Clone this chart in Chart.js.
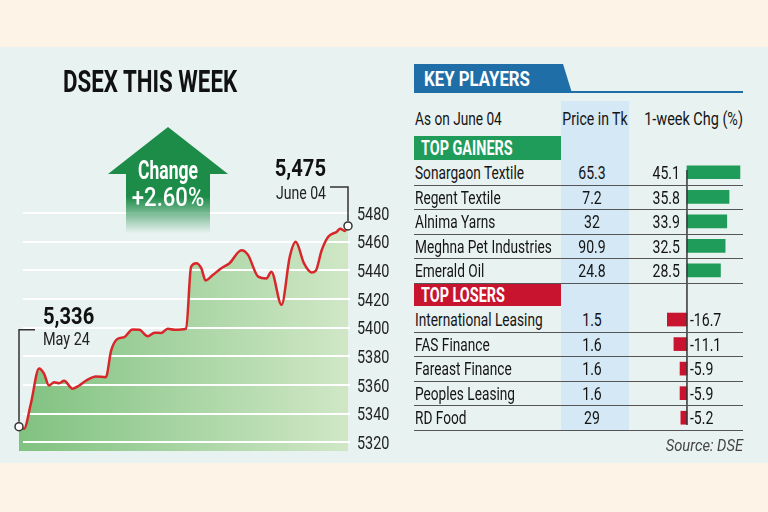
<!DOCTYPE html>
<html>
<head>
<meta charset="utf-8">
<script src="https://cdn.jsdelivr.net/npm/chart.js@4.4.1/dist/chart.umd.min.js"></script>
<style>
html, body { margin: 0; padding: 0; }
body { width: 768px; height: 512px; background: #fdf3e6; position: relative; overflow: hidden; font-family: Roboto, "Liberation Sans", sans-serif; }
#panel { position: absolute; left: 0; top: 47px; width: 768px; height: 416px; background: #e8f2f0; }
canvas { position: absolute; }
.lbl { position: absolute; white-space: nowrap; line-height: 1; color: #141414; }
.box { position: absolute; }
#arrow { position: absolute; left: 108px; top: 127px; width: 120px; height: 108px;
  background: linear-gradient(to bottom, #1d8c48 0, #1d8c48 70px, rgba(40,150,80,0) 106px);
  clip-path: polygon(60px 0, 120px 47px, 102px 47px, 102px 108px, 18px 108px, 18px 47px, 0 47px); }
#banner { position: absolute; left: 414px; top: 64px; width: 158px; height: 29px; background: #1f6ea7;
  clip-path: polygon(0 0, 149px 0, 158px 100%, 0 100%); }
</style>
</head>
<body>
<div id="panel"></div>
<canvas id="dsex" width="390" height="512" style="left:0;top:0"></canvas>
<canvas id="chg" width="135" height="270" style="left:610px;top:160px"></canvas>
<div id="arrow"></div>
<div id="banner"></div>

<script>
/*///////////////////////////////////////////////////////////
資料
///////////////////////////////////////////////////////////*/
// DSEX over the week, time as share of the week (0-100)
var times = [0, 1.5, 3.6, 6.1, 7.6, 9.1, 10.7, 12.2, 13.7, 16.3, 18.3, 20.3, 23.4, 26.4, 28, 30, 32, 34.5, 36.6, 39.1,
    41.2, 43.2, 45.2, 47.3, 50.8, 52.3, 53.9, 55.4, 56.7, 58.9, 61.5, 64, 67.6, 69.6, 72.7, 75.2, 76.7, 79.8, 82.3, 84.1,
    86.6, 88.9, 90.2, 92, 94, 96.6, 97.6, 99, 100];
var dsex = [5331, 5329.5, 5347, 5371.6, 5368, 5359.7, 5362, 5361.3, 5363, 5357.5, 5359.7, 5363, 5366, 5365.5, 5384, 5392.3, 5393.4, 5398.8, 5398.6, 5394,
    5396.5, 5396.3, 5399.3, 5398.6, 5399.3, 5442.5, 5445, 5441.5, 5433, 5436.7, 5441.5, 5445, 5454, 5450.8, 5435.6, 5434.4, 5439, 5416, 5449.5, 5460,
    5445, 5438.5, 5439.7, 5454, 5463.4, 5467, 5469, 5467.5, 5471];
var yTicks = [5320, 5340, 5360, 5380, 5400, 5420, 5440, 5460, 5480];
var openValue = '5,336', openDate = 'May 24';
var closeValue = '5,475', closeDate = 'June 04';
var changePct = 2.60;

var gainers = ['Sonargaon Textile', 'Regent Textile', 'Alnima Yarns', 'Meghna Pet Industries', 'Emerald Oil'];
var gainerPrice = ['65.3', '7.2', '32', '90.9', '24.8'];
var gainerChg = [45.1, 35.8, 33.9, 32.5, 28.5];
var losers = ['International Leasing', 'FAS Finance', 'Fareast Finance', 'Peoples Leasing', 'RD Food'];
var loserPrice = ['1.5', '1.6', '1.6', '1.6', '29'];
var loserChg = [-16.7, -11.1, -5.9, -5.9, -5.2];

// one empty row for the TOP LOSERS header
var rowNames = gainers.concat([''], losers);
var rowPrice = gainerPrice.concat([''], loserPrice);
var rowChg = gainerChg.concat([null], loserChg);

/*///////////////////////////////////////////////////////////
工具
///////////////////////////////////////////////////////////*/
function label(str, x, cy, size, o) {
    o = o || {};
    var sx = o.sx || 0.72;
    var d = document.createElement('div');
    d.className = 'lbl';
    d.textContent = str;
    d.style.fontSize = size + 'px';
    d.style.top = (cy - 0.486 * size) + 'px';
    if (o.bold) d.style.fontWeight = o.bold;
    if (o.italic) d.style.fontStyle = 'italic';
    if (o.color) d.style.color = o.color;
    if (o.align === 'right') {
        d.style.right = (768 - x) + 'px';
        d.style.transformOrigin = '100% 50%';
        d.style.transform = 'scaleX(' + sx + ')';
    } else if (o.align === 'center') {
        d.style.left = x + 'px';
        d.style.transformOrigin = '50% 50%';
        d.style.transform = 'translateX(-50%) scaleX(' + sx + ')';
    } else {
        d.style.left = x + 'px';
        d.style.transformOrigin = '0 50%';
        d.style.transform = 'scaleX(' + sx + ')';
    }
    document.body.appendChild(d);
    return d;
}

function box(x, y, w, h, color) {
    var d = document.createElement('div');
    d.className = 'box';
    d.style.left = x + 'px'; d.style.top = y + 'px';
    d.style.width = w + 'px'; d.style.height = h + 'px';
    d.style.background = color;
    document.body.appendChild(d);
    return d;
}

function canvasText(ctx, str, x, cy, size, weight, align, sx, color) {
    ctx.save();
    ctx.translate(x, cy + 0.355 * size);
    ctx.scale(sx, 1);
    ctx.font = weight + ' ' + size + 'px Roboto, sans-serif';
    ctx.fillStyle = color;
    ctx.textAlign = align;
    ctx.textBaseline = 'alphabetic';
    ctx.fillText(str, 0, 0);
    ctx.restore();
}

/*///////////////////////////////////////////////////////////
折線圖
///////////////////////////////////////////////////////////*/
var pts = times.map(function (t, i) { return {x: t, y: dsex[i]}; });

function fillGrad(c) {
    var a = c.chart.chartArea;
    if (!a) return '#a8d4a0';
    var g = c.chart.ctx.createLinearGradient(a.left, 0, a.right, 0);
    g.addColorStop(0, '#80c280');
    g.addColorStop(1, '#d0e7c6');
    return g;
}

var lineDecor = {
    id: 'lineDecor',
    afterDatasetDraw: function (chart, args) {
        if (args.index !== 1) return;
        // white grid over the area fill, under the red line
        var ctx = chart.ctx, area = chart.chartArea, y = chart.scales.y;
        ctx.save();
        ctx.strokeStyle = '#ffffff';
        ctx.lineWidth = 2;
        yTicks.forEach(function (v) {
            var py = Math.round(y.getPixelForValue(v));
            ctx.beginPath();
            ctx.moveTo(area.left + 4, py);
            ctx.lineTo(area.right + 2, py);
            ctx.stroke();
        });
        ctx.restore();
    },
    afterDraw: function (chart) {
        var ctx = chart.ctx, area = chart.chartArea, y = chart.scales.y;
        yTicks.forEach(function (v) {
            canvasText(ctx, String(v), area.right + 9, y.getPixelForValue(v), 18.5, 'normal', 'left', 0.78, '#222');
        });
        var meta = chart.getDatasetMeta(0);
        var first = meta.data[0], last = meta.data[meta.data.length - 1];
        ctx.save();
        ctx.strokeStyle = '#333';
        ctx.lineWidth = 1.5;
        ctx.beginPath();
        ctx.moveTo(first.x, first.y - 5);
        ctx.lineTo(first.x, first.y - 97);
        ctx.lineTo(first.x + 16, first.y - 97);
        ctx.stroke();
        ctx.beginPath();
        ctx.moveTo(last.x, last.y - 5);
        ctx.lineTo(last.x, last.y - 39);
        ctx.lineTo(last.x - 18, last.y - 39);
        ctx.stroke();
        ctx.restore();
        canvasText(ctx, openValue, first.x + 24, first.y - 111, 24, 'bold', 'left', 0.84, '#111');
        canvasText(ctx, openDate, first.x + 24, first.y - 88, 18.5, 'normal', 'left', 0.78, '#222');
        canvasText(ctx, closeValue, last.x - 22, last.y - 58, 24, 'bold', 'right', 0.84, '#111');
        canvasText(ctx, closeDate, last.x - 22, last.y - 33, 18.5, 'normal', 'right', 0.76, '#222');
    }
};

var lineChart = new Chart(document.getElementById('dsex'), {
    type: 'line',
    data: {
        datasets: [{
            data: pts,
            borderColor: '#d7272b',
            borderWidth: 2.5,
            fill: false,
            clip: false,
            cubicInterpolationMode: 'monotone',
            pointRadius: function (c) { return (c.dataIndex === 0 || c.dataIndex === pts.length - 1) ? 4 : 0; },
            pointBackgroundColor: '#ffffff',
            pointBorderColor: '#333333',
            pointBorderWidth: 1.5
        }, {
            data: pts,
            borderWidth: 0,
            pointRadius: 0,
            cubicInterpolationMode: 'monotone',
            fill: 'start',
            backgroundColor: fillGrad
        }]
    },
    options: {
        responsive: false,
        animation: false,
        layout: {padding: {left: 19, right: 42, top: 213, bottom: 61}},
        scales: {
            x: {type: 'linear', display: false, min: 0, max: 100},
            y: {display: false, min: 5314, max: 5480}
        },
        plugins: {legend: {display: false}, tooltip: {enabled: false}}
    },
    plugins: [lineDecor]
});

/*///////////////////////////////////////////////////////////
漲跌長條圖
///////////////////////////////////////////////////////////*/
var barLabels = {
    id: 'barLabels',
    afterDatasetsDraw: function (chart) {
        var ctx = chart.ctx, area = chart.chartArea;
        var zero = chart.scales.x.getPixelForValue(0);
        ctx.save();
        ctx.strokeStyle = '#333';
        ctx.lineWidth = 1.5;
        ctx.beginPath();
        ctx.moveTo(zero, area.top + 10);
        ctx.lineTo(zero, area.bottom - 5);
        ctx.stroke();
        ctx.restore();
        chart.getDatasetMeta(0).data.forEach(function (bar, i) {
            var v = rowChg[i];
            if (v === null) return;
            if (v >= 0) canvasText(ctx, String(v), zero - 7, bar.y, 19, 'normal', 'right', 0.74, '#141414');
            else canvasText(ctx, String(v), zero + 3, bar.y, 19, 'normal', 'left', 0.74, '#141414');
        });
    }
};

var barChart = new Chart(document.getElementById('chg'), {
    type: 'bar',
    data: {
        labels: rowNames,
        datasets: [{
            data: rowChg,
            backgroundColor: rowChg.map(function (v) { return v >= 0 ? '#1f9b5a' : '#c8142f'; }),
            barThickness: 13,
            borderWidth: 0
        }]
    },
    options: {
        indexAxis: 'y',
        responsive: false,
        animation: false,
        layout: {padding: 0},
        scales: {
            x: {display: false, min: -65.5, max: 49.4},
            y: {display: false}
        },
        plugins: {legend: {display: false}, tooltip: {enabled: false}}
    },
    plugins: [barLabels]
});

/*///////////////////////////////////////////////////////////
表格文字
///////////////////////////////////////////////////////////*/
var top0 = 160;
var rowY = function (i) {
    var s = barChart.scales.y;
    return top0 + s.getPixelForValue(0) + i * (s.getPixelForValue(1) - s.getPixelForValue(0));
};
var half = (rowY(1) - rowY(0)) / 2;

// price column background, behind texts
var priceBg = box(561, 101, 68, rowY(10) + half - 101, '#d4e8f5');
document.body.insertBefore(priceBg, document.getElementById('dsex'));

box(414, 91, 329, 2, '#1f6ea7');
label('KEY PLAYERS', 424, 79, 21, {bold: 'bold', color: '#fff', sx: 0.8});
label('As on June 04', 415, 118, 19);
label('Price in Tk', 595, 118, 19, {align: 'center', sx: 0.74});
label('1-week Chg (%)', 743, 118, 19, {align: 'right', sx: 0.76});

box(414, rowY(-1) - 12, 147, 24, '#1f9b5a');
label('TOP GAINERS', 421, rowY(-1), 20, {bold: 'bold', color: '#fff', sx: 0.72});
box(414, rowY(5) - 11, 147, 22, '#c8142f');
label('TOP LOSERS', 421, rowY(5), 20, {bold: 'bold', color: '#fff', sx: 0.72});

rowNames.forEach(function (name, i) {
    if (!name) return;
    label(name, 415, rowY(i), 19, {sx: 0.72});
    label(rowPrice[i], 592, rowY(i), 19, {align: 'center', sx: 0.74});
    box(414, Math.round(rowY(i) + half), 329, 1, '#555');
});

label('Source: DSE', 743, 446, 16, {align: 'right', italic: true, color: '#444', sx: 0.92});

/*///////////////////////////////////////////////////////////
標題與箭頭
///////////////////////////////////////////////////////////*/
label('DSEX THIS WEEK', 63, 81, 31, {bold: 'bold', color: '#111', sx: 0.72});
label('Change', 168, 170, 25, {align: 'center', bold: 'bold', color: '#fff', sx: 0.7});
label('+' + changePct.toFixed(2) + '%', 168, 197, 26, {align: 'center', bold: '500', color: '#fff', sx: 0.85});
</script>
</body>
</html>
